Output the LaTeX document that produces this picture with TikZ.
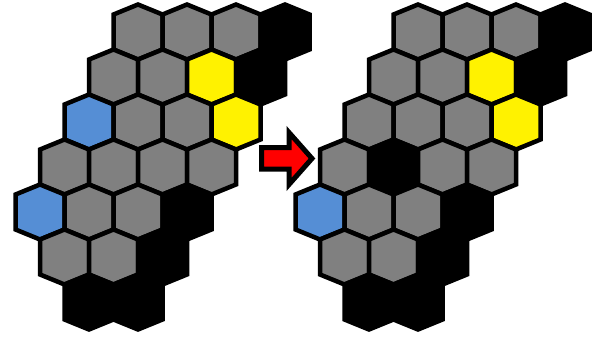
\documentclass[tikz,border=0pt]{standalone}
\usepackage{xcolor}
\usepackage{tikz}

\definecolor{hexfill}{HTML}{808080}
\definecolor{hexblu}{HTML}{558ED5}

\begin{document}
\begin{tikzpicture}[x=1pt, y=-1pt,
  hexcell/.pic={\path[pic actions] (0,-27.5) -- (24.5,-17.5) -- (24.5,17.5) -- (0,27.5) -- (-24.5,17.5) -- (-24.5,-17.5) -- cycle;},
  cell/.style={draw=black, line width=4.5pt, line join=miter},
  hexgray/.style={cell, fill=hexfill},
  hexblue/.style={cell, fill=hexblu},
  hexyellow/.style={cell, fill=yellow},
  hexblack/.style={cell, fill=black},
  bigarrow/.style={draw=black, fill=red, line width=5pt, line join=miter}
]
\useasboundingbox (0,0) rectangle (600,337);

% BOARD BEFORE
\foreach \r/\q/\c in {0/0/gray, 0/1/gray, 0/2/gray, 0/3/black,
                      1/0/gray, 1/1/gray, 1/2/yellow, 1/3/black,
                      2/0/blue, 2/1/gray, 2/2/gray, 2/3/yellow,
                      3/0/gray, 3/1/gray, 3/2/gray, 3/3/gray,
                      4/0/blue, 4/1/gray, 4/2/gray, 4/3/black,
                      5/1/gray, 5/2/gray, 5/3/black,
                      6/2/black, 6/3/black}
  \pic[hex\c] (before-\r-\q) at ({138+49*\q-24.5*\r}, {32+45*\r}) {hexcell};

% MOVE ARROW
\path[bigarrow] (261.5,147.5) -- (289,147.5) -- (289,132.5) -- (312,158.5)
  -- (289,184.5) -- (289,169.2) -- (261.5,169.2) -- cycle;

% BOARD AFTER
\foreach \r/\q/\c in {0/0/gray, 0/1/gray, 0/2/gray, 0/3/black,
                      1/0/gray, 1/1/gray, 1/2/yellow, 1/3/black,
                      2/0/gray, 2/1/gray, 2/2/gray, 2/3/yellow,
                      3/0/gray, 3/1/black, 3/2/gray, 3/3/gray,
                      4/0/blue, 4/1/gray, 4/2/gray, 4/3/black,
                      5/1/gray, 5/2/gray, 5/3/black,
                      6/2/black, 6/3/black}
  \pic[hex\c] (after-\r-\q) at ({418+49*\q-24.5*\r}, {32+45*\r}) {hexcell};

\end{tikzpicture}
\end{document}
